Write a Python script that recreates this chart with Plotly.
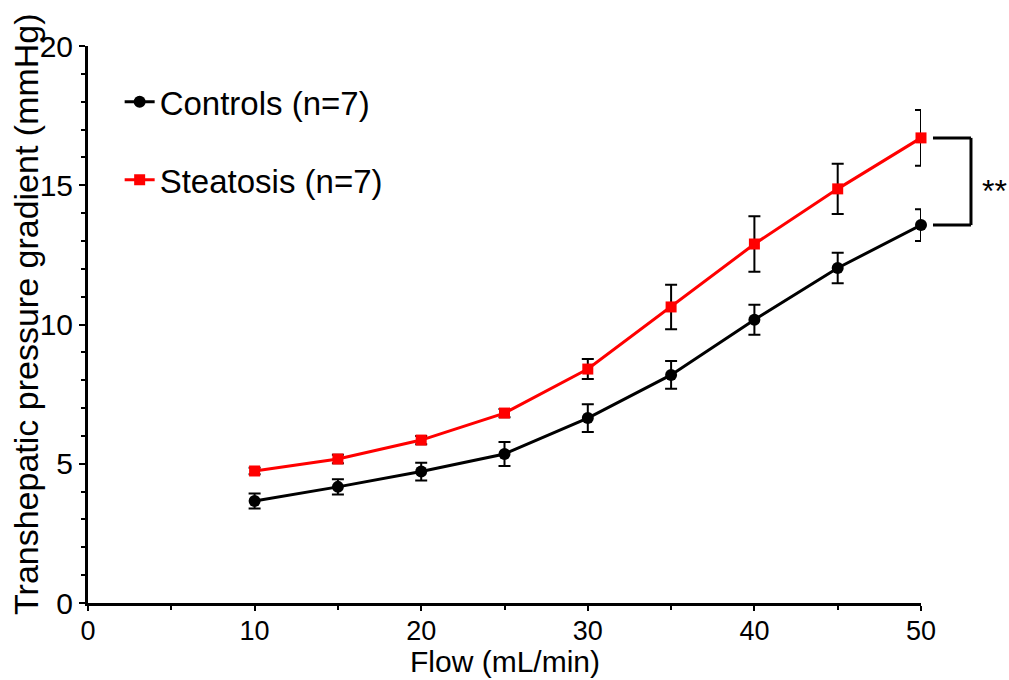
import plotly.graph_objects as go

flow = [10, 15, 20, 25, 30, 35, 40, 45, 50]
controls = [3.66, 4.17, 4.72, 5.35, 6.64, 8.19, 10.17, 12.03, 13.57]
controls_err = [0.27, 0.27, 0.32, 0.43, 0.50, 0.50, 0.54, 0.55, 0.57]
steatosis = [4.74, 5.17, 5.85, 6.82, 8.40, 10.63, 12.89, 14.87, 16.70]
steatosis_err = [0.12, 0.15, 0.15, 0.15, 0.36, 0.80, 1.00, 0.90, 1.00]

names = ["Controls (n=7)", "Steatosis (n=7)"]
sig_label = "**"
x_title = "Flow (mL/min)"
y_title = "Transhepatic pressure gradient (mmHg)"

REG = "Liberation Sans, Arial, sans-serif"

fig = go.Figure()
fig.add_trace(go.Scatter(
    x=flow, y=controls, name=names[0], mode="lines+markers",
    line=dict(color="black", width=3),
    marker=dict(symbol="circle", size=12, color="black"),
    error_y=dict(type="data", array=controls_err, color="black", thickness=2, width=6),
    cliponaxis=False, legendgroup="a"))
fig.add_trace(go.Scatter(
    x=flow, y=steatosis, name=names[1], mode="lines+markers",
    line=dict(color="#ff0000", width=3),
    marker=dict(symbol="square", size=11, color="#ff0000"),
    error_y=dict(type="data", array=steatosis_err, color="black", thickness=2, width=6),
    cliponaxis=False, legendgroup="b"))

x0p, x1p = 1.0144, 1.060
fig.add_shape(type="line", xref="paper", yref="y", x0=x0p, x1=x1p,
              y0=steatosis[-1], y1=steatosis[-1], line=dict(color="black", width=3))
fig.add_shape(type="line", xref="paper", yref="y", x0=x1p, x1=x1p,
              y0=steatosis[-1], y1=controls[-1], line=dict(color="black", width=3))
fig.add_shape(type="line", xref="paper", yref="y", x0=x0p, x1=x1p,
              y0=controls[-1], y1=controls[-1], line=dict(color="black", width=3))
fig.add_annotation(xref="paper", yref="y", x=1.088, y=(steatosis[-1] + controls[-1]) / 2,
                   xanchor="center", yanchor="middle",
                   yshift=-10, text=sig_label, showarrow=False,
                   font=dict(family=REG, size=32, color="black"))

# y-axis title as a rotated annotation for exact placement
fig.add_annotation(xref="paper", yref="paper", x=-0.0744, y=0.519,
                   text=y_title, textangle=-90, showarrow=False,
                   xanchor="center", yanchor="middle",
                   font=dict(family=REG, size=34, color="black"))

# x-axis title as an annotation anchored at the bottom edge
fig.add_annotation(xref="paper", yref="paper", x=0.5, y=-0.1382,
                   text=x_title, showarrow=False,
                   xanchor="center", yanchor="bottom",
                   font=dict(family=REG, size=30, color="black"))

fig.update_layout(
    width=1009, height=680,
    margin=dict(l=88, r=88, t=46, b=77, autoexpand=False),
    plot_bgcolor="white", paper_bgcolor="white",
    showlegend=True,
    legend=dict(x=0.038, y=0.950, xanchor="left", yanchor="top",
                font=dict(family=REG, size=33, color="black"),
                tracegroupgap=32, bgcolor="rgba(0,0,0,0)"),
    xaxis=dict(range=[0, 50], tickvals=[0, 10, 20, 30, 40, 50],
               showline=True, linecolor="black", linewidth=3,
               ticks="outside", ticklen=5, tickwidth=2, tickcolor="black",
               minor=dict(dtick=5, ticks="outside", ticklen=4, tickwidth=2, tickcolor="black"),
               showgrid=False, zeroline=False, automargin=False,
               ticklabelstandoff=-3,
               tickfont=dict(family=REG, size=27, color="black")),
    yaxis=dict(range=[0, 20], tickvals=[0, 5, 10, 15, 20],
               showline=True, linecolor="black", linewidth=3,
               ticks="outside", ticklen=6, tickwidth=2, tickcolor="black",
               minor=dict(dtick=1, ticks="outside", ticklen=4, tickwidth=2, tickcolor="black"),
               showgrid=False, zeroline=False, automargin=False,
               tickfont=dict(family=REG, size=30, color="black")),
)

fig.write_html("out.html", config={"displayModeBar": False},
               post_script="document.body.style.margin='0';document.body.style.overflow='hidden';")
